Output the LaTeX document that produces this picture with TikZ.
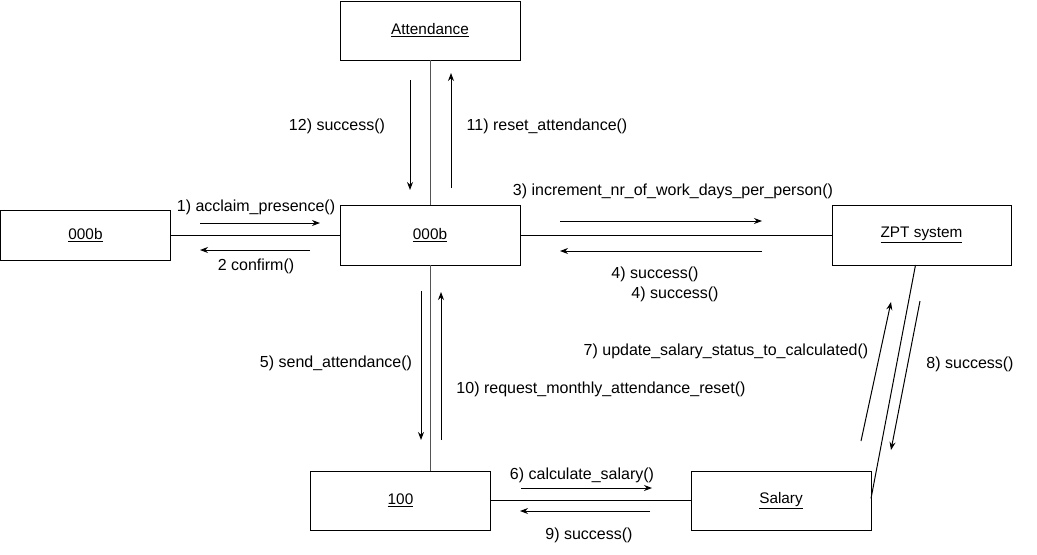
\documentclass[tikz,border=0pt]{standalone}
\usepackage{fontspec}
\setmainfont{Liberation Sans}
\usetikzlibrary{arrows.meta,calc}
\definecolor{linkgray}{HTML}{555555}
\begin{document}
\begin{tikzpicture}[x=0.75pt,y=-0.75pt,
  obj/.style={draw,line width=0.75pt,minimum width=135pt,minimum height=45pt,inner sep=0pt,outer sep=0pt,font=\fontsize{11.5}{13}\selectfont},
  lbl/.style={inner sep=0pt,font=\fontsize{12}{14}\selectfont},
  link/.style={line width=0.75pt},
  msg/.style={line width=0.75pt,-{Stealth[length=6pt,width=4.5pt]}}]
\useasboundingbox (0,0) rectangle (1037,554);
% objects
\node[obj,minimum height=44.25pt] (att) at (430,30.5) {\underline{Attendance}};
\node[obj,minimum width=127.5pt,minimum height=37.5pt] (left) at (85.5,235) {\underline{000b}};
\node[obj] (mid) at (430,235) {\underline{000b}};
\node[obj,minimum width=134.25pt] (zpt) at (921.5,235) {\underline{ZPT system}};
\node[obj,minimum height=44.25pt] (hund) at (400.5,500.5) {\underline{100}};
\node[obj,minimum height=44.25pt] (sal) at (781,500.5) {\underline{Salary}};
% links
\draw[link,linkgray] (att) -- (mid);
\draw[link] (left) -- (mid);
\draw[link] (mid) -- (zpt);
\draw[link,linkgray] (mid.south) -- (mid.south |- hund.north);
\draw[link] (hund) -- (sal);
\draw[link] ($(sal.east)+(0,-2)$) -- ($(zpt.south)+(-6,0)$);
% message arrow end points
\coordinate (a12s) at (410,80);  \coordinate (a12e) at (410,190);
\coordinate (a11s) at (451,188); \coordinate (a11e) at (451,73);
\coordinate (a1s) at (200,223);  \coordinate (a1e) at (320,223);
\coordinate (a2s) at (310,250);  \coordinate (a2e) at (200,250);
\coordinate (a3s) at (560,221);  \coordinate (a3e) at (762,221);
\coordinate (a4s) at (762,251);  \coordinate (a4e) at (560,251);
\coordinate (a5s) at (421,291);  \coordinate (a5e) at (421,440);
\coordinate (a10s) at (441,440); \coordinate (a10e) at (441,292);
\coordinate (a6s) at (521,488);  \coordinate (a6e) at (652,488);
\coordinate (a9s) at (650,511);  \coordinate (a9e) at (520,511);
\coordinate (a7s) at (861,441);  \coordinate (a7e) at (891,302);
\coordinate (a8s) at (920,301);  \coordinate (a8e) at (891,450);
\draw[msg] (a12s) -- (a12e);
\draw[msg] (a11s) -- (a11e);
\draw[msg] (a1s) -- (a1e);
\draw[msg] (a2s) -- (a2e);
\draw[msg] (a3s) -- (a3e);
\draw[msg] (a4s) -- (a4e);
\draw[msg] (a5s) -- (a5e);
\draw[msg] (a10s) -- (a10e);
\draw[msg] (a6s) -- (a6e);
\draw[msg] (a9s) -- (a9e);
\draw[msg] (a7s) -- (a7e);
\draw[msg] (a8s) -- (a8e);
% labels
\node[lbl] (t12) at (337,126) {12) success()};
\node[lbl] (t11) at (547,126) {11) reset\_attendance()};
\node[lbl] (t1) at (256,207) {1) acclaim\_presence()};
\node[lbl] (t2) at (256,266) {2 confirm()};
\node[lbl] (t3) at (673,191) {3) increment\_nr\_of\_work\_days\_per\_person()};
\node[lbl] (t4a) at (655,274) {4) success()};
\node[lbl] (t4b) at (675,294) {4) success()};
\node[lbl] (t5) at (336,363) {5) send\_attendance()};
\node[lbl] (t10) at (601,389) {10) request\_monthly\_attendance\_reset()};
\node[lbl] (t7) at (726,351) {7) update\_salary\_status\_to\_calculated()};
\node[lbl] (t8) at (970,364) {8) success()};
\node[lbl] (t6) at (582,475) {6) calculate\_salary()};
\node[lbl] (t9) at (589,535) {9) success()};
\end{tikzpicture}
\end{document}
